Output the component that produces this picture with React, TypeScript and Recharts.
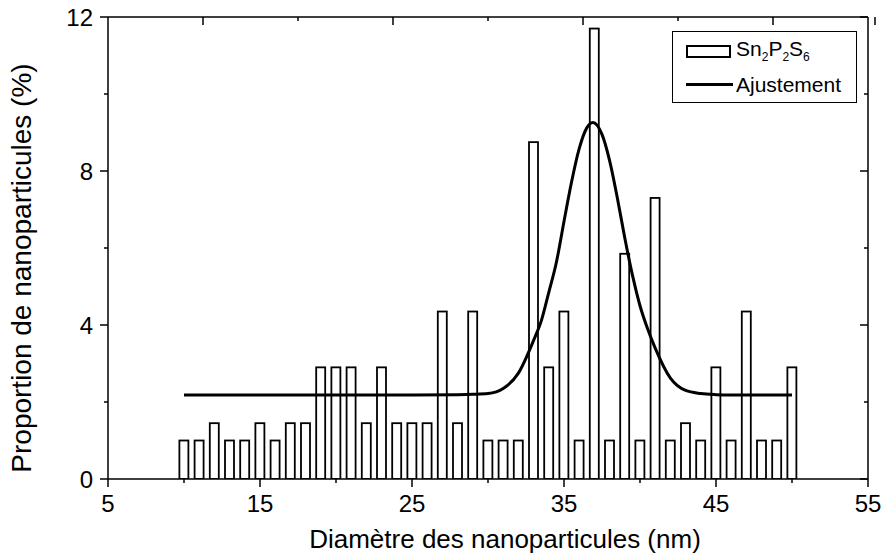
import { Bar, ComposedChart, Label, Legend, Line, XAxis, YAxis } from "recharts"

const diameters = [
  10, 11, 12, 13, 14, 15, 16, 17, 18, 19, 20, 21, 22, 23, 24, 25, 26, 27, 28, 29,
  30, 31, 32, 33, 34, 35, 36, 37, 38, 39, 40, 41, 42, 43, 44, 45, 46, 47, 48, 49, 50,
]
const proportions = [
  1.0, 1.0, 1.45, 1.0, 1.0, 1.45, 1.0, 1.45, 1.45, 2.9, 2.9, 2.9, 1.45, 2.9, 1.45, 1.45, 1.45, 4.35, 1.45, 4.35,
  1.0, 1.0, 1.0, 8.75, 2.9, 4.35, 1.0, 11.7, 1.0, 5.85, 1.0, 7.3, 1.0, 1.45, 1.0, 2.9, 1.0, 4.35, 1.0, 1.0, 2.9,
]

const fitX = [
  10, 15, 20, 25, 28, 29, 30, 31, 32, 33, 33.5, 34, 34.5, 35, 35.5, 36, 36.5, 36.9,
  37.5, 38, 38.5, 39, 39.5, 40, 40.5, 41, 42, 43, 44, 45, 46, 50,
]
const fitY = [
  2.18, 2.18, 2.18, 2.18, 2.19, 2.2, 2.22, 2.35, 2.75, 3.6, 4.1, 4.85, 5.63, 6.69, 7.72, 8.58, 9.12, 9.26,
  8.95, 8.27, 7.32, 6.26, 5.3, 4.5, 3.9, 3.4, 2.62, 2.3, 2.22, 2.19, 2.18, 2.18,
]

const xTicks = [5, 10, 15, 20, 25, 30, 35, 40, 45, 50, 55]
const xLabels = [5, 15, 25, 35, 45, 55]
const yTicks = [0, 2, 4, 6, 8, 10, 12]
const yLabels = [0, 4, 8, 12]

const barData = diameters.map((x, i) => ({ x, p: proportions[i] }))
const fitData = fitX.map((x, i) => ({ x, fit: fitY[i] }))

const font = "'Liberation Sans', Arial, sans-serif"
const MAJOR = 8
const MINOR = 4
const BAR_W = 9

function BottomTick({ x, y, payload }: any) {
  const major = xLabels.includes(payload.value)
  return (
    <g>
      <line x1={x} x2={x} y1={y} y2={y + (major ? MAJOR : MINOR)} stroke="#000" strokeWidth={1.5} />
      {major && (
        <text x={x} y={y + 33} textAnchor="middle" fontSize={24} fontFamily={font} fill="#000">
          {payload.value}
        </text>
      )}
    </g>
  )
}

function TopTick({ x, y, payload }: any) {
  const major = xLabels.includes(payload.value)
  return <line x1={x} x2={x} y1={y} y2={y + (major ? MAJOR : MINOR)} stroke="#000" strokeWidth={1.5} />
}

function LeftTick({ x, y, payload }: any) {
  const major = yLabels.includes(payload.value)
  return (
    <g>
      <line x1={x} x2={x - (major ? MAJOR : MINOR)} y1={y} y2={y} stroke="#000" strokeWidth={1.5} />
      {major && (
        <text x={x - 15} y={y} dy="0.36em" textAnchor="end" fontSize={24} fontFamily={font} fill="#000">
          {payload.value}
        </text>
      )}
    </g>
  )
}

function RightTick({ x, y, payload }: any) {
  const major = yLabels.includes(payload.value)
  return <line x1={x} x2={x - (major ? MAJOR : MINOR)} y1={y} y2={y} stroke="#000" strokeWidth={1.5} />
}

// fixed-width hollow bar centred on the slot recharts gives us
function HollowBar({ x, y, width, height }: any) {
  const cx = x + width / 2
  return <rect x={cx - BAR_W / 2} y={y} width={BAR_W} height={height} fill="#fff" stroke="#000" strokeWidth={1.8} />
}

function LegendBox() {
  return (
    <div
      style={{
        width: 185,
        height: 72,
        boxSizing: "border-box",
        border: "1.2px solid #000",
        background: "#fff",
        fontFamily: font,
        fontSize: 21,
        color: "#000",
        lineHeight: 1,
      }}
    >
      <div style={{ display: "flex", alignItems: "center", height: 34, paddingLeft: 13, paddingTop: 2 }}>
        <div style={{ width: 45, height: 13, border: "2px solid #000", boxSizing: "border-box" }} />
        <span style={{ marginLeft: 5 }}>
          Sn<sub style={{ fontSize: 12 }}>2</sub>P<sub style={{ fontSize: 12 }}>2</sub>S
          <sub style={{ fontSize: 12 }}>6</sub>
        </span>
      </div>
      <div style={{ display: "flex", alignItems: "center", height: 32, paddingLeft: 13 }}>
        <div style={{ width: 47, height: 3, background: "#000" }} />
        <span style={{ marginLeft: 3 }}>Ajustement</span>
      </div>
    </div>
  )
}

export default function App() {
  return (
    <div style={{ position: "absolute", left: 0, top: 0, background: "#fff" }}>
      <ComposedChart width={883} height={557} data={barData} margin={{ top: 0, right: 0, bottom: 0, left: 0 }}>
        <XAxis
          dataKey="x"
          type="number"
          domain={[5, 55]}
          ticks={xTicks}
          allowDataOverflow
          height={78}
          tickSize={0}
          tickMargin={0}
          tick={<BottomTick />}
          axisLine={{ stroke: "#000", strokeWidth: 1.5 }}
        >
          <Label
            content={({ viewBox }: any) => (
              <text
                x={viewBox.x + viewBox.width / 2 + 17}
                y={viewBox.y + 69}
                textAnchor="middle"
                fontSize={26}
                fontFamily={font}
                fill="#000"
              >
                Diamètre des nanoparticules (nm)
              </text>
            )}
          />
        </XAxis>
        <XAxis
          xAxisId="top"
          orientation="top"
          type="number"
          domain={[5, 55]}
          ticks={xTicks}
          allowDataOverflow
          height={17}
          tickSize={0}
          tickMargin={0}
          tick={<TopTick />}
          axisLine={{ stroke: "#000", strokeWidth: 1.5 }}
        />
        <YAxis
          type="number"
          domain={[0, 12]}
          ticks={yTicks}
          allowDataOverflow
          width={108}
          tickSize={0}
          tickMargin={0}
          tick={<LeftTick />}
          axisLine={{ stroke: "#000", strokeWidth: 1.5 }}
        >
          <Label
            content={({ viewBox }: any) => {
              const cx = viewBox.x + 31
              const cy = viewBox.y + viewBox.height / 2 + 20
              return (
                <text
                  x={cx}
                  y={cy}
                  transform={`rotate(-90 ${cx} ${cy})`}
                  textAnchor="middle"
                  fontSize={28}
                  fontFamily={font}
                  fill="#000"
                >
                  Proportion de nanoparticules (%)
                </text>
              )
            }}
          />
        </YAxis>
        <YAxis
          yAxisId="right"
          orientation="right"
          type="number"
          domain={[0, 12]}
          ticks={yTicks}
          allowDataOverflow
          width={15}
          tickSize={0}
          tickMargin={0}
          tick={<RightTick />}
          axisLine={{ stroke: "#000", strokeWidth: 1.5 }}
        />
        <Legend
          content={<LegendBox />}
          layout="horizontal"
          verticalAlign="middle"
          align="center"
          wrapperStyle={{ position: "absolute", left: 672, top: 31, width: 185 }}
        />
        <Bar dataKey="p" shape={<HollowBar />} isAnimationActive={false} />
        <Line
          data={fitData}
          dataKey="fit"
          type="monotone"
          stroke="#000"
          strokeWidth={3}
          dot={false}
          isAnimationActive={false}
        />
      </ComposedChart>
    </div>
  )
}
